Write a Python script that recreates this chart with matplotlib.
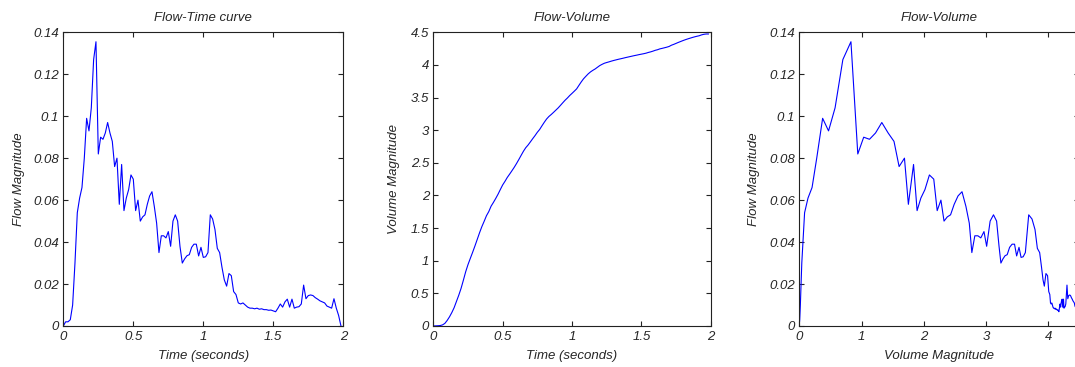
import numpy as np
import matplotlib
matplotlib.use("Agg")
import matplotlib.pyplot as plt
from matplotlib.ticker import FuncFormatter

# ---------------- data ----------------
sample_rate = 60.0  # samples per second (time axis of the first two panels)
flow = [
    0.000, 0.002, 0.002, 0.003, 0.010, 0.030, 0.054, 0.061, 0.066, 0.080,
    0.099, 0.093, 0.104, 0.127, 0.1355, 0.082, 0.090, 0.089, 0.092, 0.097,
    0.092, 0.088, 0.076, 0.080, 0.058, 0.077, 0.055, 0.061, 0.065, 0.072,
    0.070, 0.055, 0.060, 0.050, 0.052, 0.053, 0.058, 0.062, 0.064, 0.057,
    0.049, 0.035, 0.043, 0.043, 0.042, 0.045, 0.038, 0.050, 0.053, 0.050,
    0.038, 0.030, 0.032, 0.0335, 0.034, 0.0375, 0.039, 0.039, 0.0334, 0.0375,
    0.0327, 0.033, 0.035, 0.053, 0.051, 0.046, 0.037, 0.035, 0.028, 0.022,
    0.019, 0.025, 0.024, 0.0164, 0.015, 0.011, 0.0105, 0.011, 0.010, 0.009,
    0.0085, 0.0085, 0.0082, 0.0085, 0.0080, 0.0082, 0.0078, 0.0078, 0.0075, 0.0076,
    0.0072, 0.0068, 0.0085, 0.0105, 0.0090, 0.0115, 0.0128, 0.0090, 0.0128, 0.0085,
    0.0090, 0.0092, 0.0105, 0.0195, 0.0130, 0.0145, 0.0148, 0.0145, 0.0135, 0.0128,
    0.0120, 0.0115, 0.0110, 0.0095, 0.0090, 0.0085, 0.0130, 0.0085, 0.0050, 0.000,
]
# accumulated volume at the same samples (read from the middle / right panels)
volume = [
    0.000, 0.002, 0.004, 0.007, 0.017, 0.040, 0.085, 0.140, 0.205, 0.280,
    0.375, 0.470, 0.575, 0.700, 0.830, 0.940, 1.035, 1.128, 1.225, 1.326,
    1.428, 1.522, 1.604, 1.690, 1.753, 1.836, 1.893, 1.954, 2.019, 2.091,
    2.161, 2.216, 2.276, 2.326, 2.378, 2.431, 2.489, 2.551, 2.615, 2.678,
    2.732, 2.773, 2.821, 2.870, 2.917, 2.968, 3.011, 3.067, 3.121, 3.171,
    3.210, 3.240, 3.273, 3.307, 3.341, 3.380, 3.420, 3.459, 3.493, 3.531,
    3.564, 3.598, 3.633, 3.687, 3.740, 3.788, 3.826, 3.863, 3.893, 3.917,
    3.938, 3.964, 3.990, 4.009, 4.026, 4.037, 4.047, 4.058, 4.068, 4.077,
    4.086, 4.094, 4.102, 4.111, 4.119, 4.127, 4.135, 4.143, 4.150, 4.158,
    4.165, 4.172, 4.180, 4.191, 4.200, 4.211, 4.224, 4.233, 4.246, 4.254,
    4.263, 4.272, 4.283, 4.302, 4.315, 4.330, 4.345, 4.359, 4.373, 4.386,
    4.398, 4.409, 4.420, 4.430, 4.439, 4.447, 4.460, 4.469, 4.474, 4.474,
]
time = np.arange(len(flow)) / sample_rate

titles = ["Flow-Time curve", "Flow-Volume", "Flow-Volume"]
xlabels = ["Time (seconds)", "Time (seconds)", "Volume Magnitude"]
ylabels = ["Flow Magnitude", "Volume Magnitude", "Flow Magnitude"]
flow_ticks = [0, 0.02, 0.04, 0.06, 0.08, 0.1, 0.12, 0.14]
time_ticks = [0, 0.5, 1, 1.5, 2]
vol_ticks = [0, 0.5, 1, 1.5, 2, 2.5, 3, 3.5, 4, 4.5]
volx_ticks = [0, 1, 2, 3, 4]

# ---------------- style ----------------
W, H = 1075, 367
fig = plt.figure(figsize=(W / 100, H / 100), dpi=100)
fig.patch.set_facecolor("white")
FAM = ["Liberation Sans", "DejaVu Sans"]
TXT = "#262626"
FS = 9.5


def px_axes(left, right, top, bottom):
    return fig.add_axes([left / W, 1 - bottom / H, (right - left) / W, (bottom - top) / H])


def fmt(v, pos):
    return "%g" % v


def style(ax, xt, yt, title, xl, yl, ylab_x, width_px, height_px):
    ax.set_xticks(xt)
    ax.set_yticks(yt)
    ax.xaxis.set_major_formatter(FuncFormatter(fmt))
    ax.yaxis.set_major_formatter(FuncFormatter(fmt))
    ax.tick_params(direction="in", length=3.5, width=0.8, top=True, right=True,
                   colors="#222222", labelcolor=TXT)
    ax.tick_params(axis="x", pad=3.5)
    ax.tick_params(axis="y", pad=3)
    for lab in ax.get_xticklabels() + ax.get_yticklabels():
        lab.set_fontfamily(FAM)
        lab.set_fontstyle("italic")
        lab.set_fontsize(FS)
    for s in ax.spines.values():
        s.set_linewidth(0.8)
        s.set_color("#222222")
    ax.set_title(title, color=TXT, pad=8, family=FAM, style="italic", size=FS)
    ax.set_xlabel(xl, color=TXT, family=FAM, style="italic", size=FS)
    ax.set_ylabel(yl, color=TXT, family=FAM, style="italic", size=FS)
    ax.xaxis.set_label_coords(0.5, -24.0 / height_px)
    ax.yaxis.set_label_coords(ylab_x / width_px, 0.5)


LINE = dict(color="#0000ff", linewidth=0.8)

ax1 = px_axes(63.3, 343.3, 32.3, 326)
ax1.plot(time, flow, **LINE)
ax1.set_xlim(0, 2)
ax1.set_ylim(0, 0.14)
style(ax1, time_ticks, flow_ticks, titles[0], xlabels[0], ylabels[0], -38.3, 280, 293.7)

ax2 = px_axes(433.3, 710.7, 32.3, 326)
ax2.plot(time, volume, **LINE)
ax2.set_xlim(0, 2)
ax2.set_ylim(0, 4.5)
style(ax2, time_ticks, vol_ticks, titles[1], xlabels[1], ylabels[1], -33.3, 277.4, 293.7)

ax3 = px_axes(799.3, 1079.3, 32.3, 326)
ax3.plot(volume, flow, **LINE)
ax3.set_xlim(0, 4.5)
ax3.set_ylim(0, 0.14)
style(ax3, volx_ticks, flow_ticks, titles[2], xlabels[2], ylabels[2], -39.0, 280, 293.7)

fig.savefig("out.png", dpi=100, facecolor="white")
